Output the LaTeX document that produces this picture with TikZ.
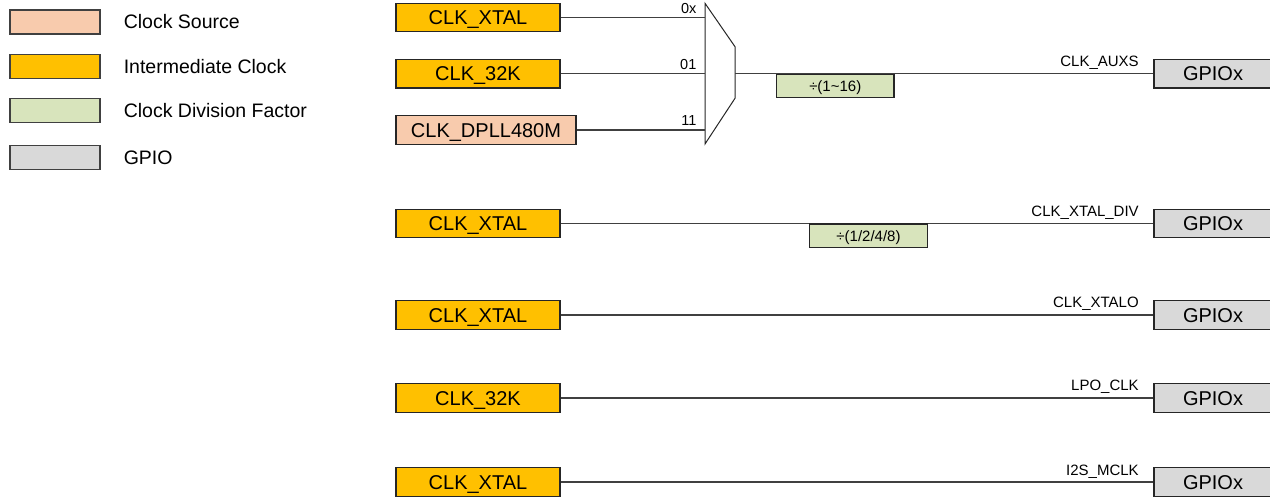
\documentclass[tikz,border=0pt]{standalone}
\usepackage{fontspec}
\setmainfont{Liberation Sans}
\usepackage{tikz}
\usetikzlibrary{positioning}
\definecolor{srcPeach}{HTML}{F8CBAD}
\definecolor{midAmber}{HTML}{FFC000}
\definecolor{divGreen}{HTML}{D8E4BC}
\definecolor{gpioGray}{HTML}{D9D9D9}
\definecolor{edgeDark}{HTML}{262626}
\definecolor{wireGray}{HTML}{404040}
\tikzset{
    % Base style for all boxes
    box base/.style={
        draw=edgeDark,
        line width=1.2bp,
        inner sep=0pt,
        text=black,
        font=\fontsize{20bp}{24bp}\selectfont,
        text height=14.3bp,
        text depth=0pt,
        minimum height=28.5bp,
    },
    % Clock source - peach
    source/.style={box base, fill=srcPeach, minimum width=180bp},
    % Intermediate clock - amber
    clock/.style={box base, fill=midAmber, minimum width=164bp},
    % Division factor - pale green
    divider/.style={
        box base,
        fill=divGreen,
        minimum width=117.5bp,
        minimum height=23.5bp,
        font=\fontsize{15bp}{18bp}\selectfont,
        text height=10.7bp,
    },
    % GPIO pad - gray
    gpio/.style={box base, fill=gpioGray, minimum width=118bp},
    % Legend keys and texts
    legend key/.style={box base, draw=wireGray, minimum width=90bp, minimum height=24bp},
    legend text/.style={
        inner sep=0pt,
        anchor=west,
        font=\fontsize{19.5bp}{23bp}\selectfont,
        text height=14bp,
        text depth=0pt,
    },
    % Wires and labels
    wire/.style={draw=wireGray, line width=1.3bp},
    mux/.style={draw=edgeDark, line width=1bp},
    mux label/.style={
        inner sep=0pt,
        anchor=base east,
        xshift=-8bp,
        yshift=4bp,
        font=\fontsize{14.5bp}{17bp}\selectfont,
    },
    sig label/.style={
        inner sep=0pt,
        anchor=base east,
        xshift=-14bp,
        yshift=7bp,
        font=\fontsize{15bp}{18bp}\selectfont,
    },
}

\begin{document}
\begin{tikzpicture}[x=1bp, y=-1bp]
    \useasboundingbox (0,0) rectangle (1270,498);

    % legend
    \node (keySrc) [legend key, fill=srcPeach] at (55,22) {};
    \node (keyMid) [legend key, fill=midAmber] at (55,66.3) {};
    \node (keyDiv) [legend key, fill=divGreen] at (55,110.8) {};
    \node (keyGpio) [legend key, fill=gpioGray] at (55,157.3) {};
    \node (txtSrc) [legend text, right=23bp of keySrc] {Clock Source};
    \node (txtMid) [legend text, right=23bp of keyMid] {Intermediate Clock};
    \node (txtDiv) [legend text, right=23bp of keyDiv] {Clock Division Factor};
    \node (txtGpio) [legend text, right=23bp of keyGpio] {GPIO};

    % clock mux
    \node (xtalA) [clock] at (478,17.5) {CLK\_XTAL};
    \node (k32A) [clock] at (478,73.8) {CLK\_32K};
    \node (dpll) [source] at (486,130) {CLK\_DPLL480M};
    \draw [mux] (705,3.3) -- (735,46.7) -- (735,98.3) -- (705,144) -- cycle;
    \coordinate (muxIn0) at (705,17.5);
    \coordinate (muxIn1) at (705,73.8);
    \coordinate (muxIn2) at (705,130);
    \coordinate (muxOut) at (735,73.8);
    \draw [wire] (xtalA) -- node [pos=1, mux label] {0x} (muxIn0);
    \draw [wire] (k32A) -- node [pos=1, mux label] {01} (muxIn1);
    \draw [wire] (dpll) -- node [pos=1, mux label] {11} (muxIn2);
    \node (gpioA) [gpio] at (1213,73.8) {GPIOx};
    \draw [wire] (muxOut) -- node [pos=1, sig label] {CLK\_AUXS} (gpioA);
    \node (divAux) [divider, anchor=north] at (835.25,73.8) {÷(1\textasciitilde16)};

    % direct outputs
    \node (xtalB) [clock] at (478,223.5) {CLK\_XTAL};
    \node (gpioB) [gpio] at (1213,223.5) {GPIOx};
    \draw [wire] (xtalB) -- node [pos=1, sig label] {CLK\_XTAL\_DIV} (gpioB);
    \node (divXtal) [divider, anchor=north] at (868.5,223.5) {÷(1/2/4/8)};

    \node (xtalC) [clock] at (478,315) {CLK\_XTAL};
    \node (gpioC) [gpio] at (1213,315) {GPIOx};
    \draw [wire] (xtalC) -- node [pos=1, sig label] {CLK\_XTALO} (gpioC);

    \node (k32B) [clock] at (478,398) {CLK\_32K};
    \node (gpioD) [gpio] at (1213,398) {GPIOx};
    \draw [wire] (k32B) -- node [pos=1, sig label] {LPO\_CLK} (gpioD);

    \node (xtalD) [clock] at (478,482) {CLK\_XTAL};
    \node (gpioE) [gpio] at (1213,482) {GPIOx};
    \draw [wire] (xtalD) -- node [pos=1, sig label] {I2S\_MCLK} (gpioE);
\end{tikzpicture}
\end{document}
